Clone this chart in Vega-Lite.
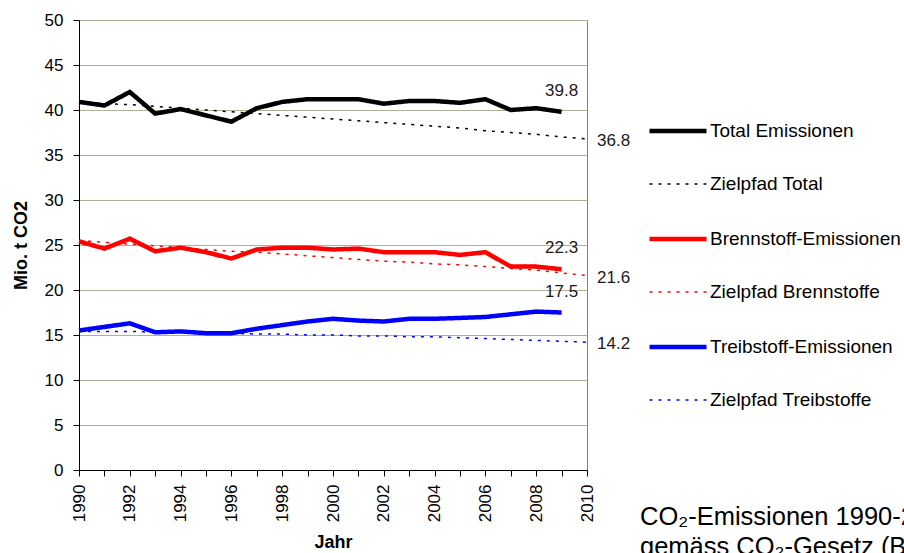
{
  "$schema": "https://vega.github.io/schema/vega-lite/v6.json",
  "autosize": {"type": "none"},
  "width": 508,
  "height": 450,
  "padding": {"left": 79, "top": 20, "right": 317, "bottom": 83},
  "background": "white",
  "config": {
    "font": "Liberation Sans",
    "view": {"stroke": "#808080", "strokeWidth": 1}
  },
  "title": {
    "text": ["CO₂-Emissionen 1990-2009", "gemäss CO₂-Gesetz (BAFU 2010)"],
    "orient": "bottom",
    "anchor": "start",
    "frame": "group",
    "fontSize": 25.5,
    "fontWeight": "normal",
    "lineHeight": 30,
    "color": "black",
    "dx": 561,
    "offset": -47
  },
  "data": {
    "values": [
      {"year": 1990, "series": "Total Emissionen", "value": 40.9},
      {"year": 1991, "series": "Total Emissionen", "value": 40.5},
      {"year": 1992, "series": "Total Emissionen", "value": 42.0},
      {"year": 1993, "series": "Total Emissionen", "value": 39.6},
      {"year": 1994, "series": "Total Emissionen", "value": 40.1},
      {"year": 1995, "series": "Total Emissionen", "value": 39.4},
      {"year": 1996, "series": "Total Emissionen", "value": 38.7},
      {"year": 1997, "series": "Total Emissionen", "value": 40.2},
      {"year": 1998, "series": "Total Emissionen", "value": 40.9},
      {"year": 1999, "series": "Total Emissionen", "value": 41.2},
      {"year": 2000, "series": "Total Emissionen", "value": 41.2},
      {"year": 2001, "series": "Total Emissionen", "value": 41.2},
      {"year": 2002, "series": "Total Emissionen", "value": 40.7},
      {"year": 2003, "series": "Total Emissionen", "value": 41.0},
      {"year": 2004, "series": "Total Emissionen", "value": 41.0},
      {"year": 2005, "series": "Total Emissionen", "value": 40.8},
      {"year": 2006, "series": "Total Emissionen", "value": 41.2},
      {"year": 2007, "series": "Total Emissionen", "value": 40.0},
      {"year": 2008, "series": "Total Emissionen", "value": 40.2},
      {"year": 2009, "series": "Total Emissionen", "value": 39.8},

      {"year": 1990, "series": "Zielpfad Total", "value": 40.9},
      {"year": 1991, "series": "Zielpfad Total", "value": 40.7},
      {"year": 1992, "series": "Zielpfad Total", "value": 40.6},
      {"year": 1993, "series": "Zielpfad Total", "value": 40.4},
      {"year": 1994, "series": "Zielpfad Total", "value": 40.2},
      {"year": 1995, "series": "Zielpfad Total", "value": 40.0},
      {"year": 1996, "series": "Zielpfad Total", "value": 39.8},
      {"year": 1997, "series": "Zielpfad Total", "value": 39.6},
      {"year": 1998, "series": "Zielpfad Total", "value": 39.4},
      {"year": 1999, "series": "Zielpfad Total", "value": 39.2},
      {"year": 2000, "series": "Zielpfad Total", "value": 39.0},
      {"year": 2001, "series": "Zielpfad Total", "value": 38.8},
      {"year": 2002, "series": "Zielpfad Total", "value": 38.6},
      {"year": 2003, "series": "Zielpfad Total", "value": 38.4},
      {"year": 2004, "series": "Zielpfad Total", "value": 38.2},
      {"year": 2005, "series": "Zielpfad Total", "value": 38.0},
      {"year": 2006, "series": "Zielpfad Total", "value": 37.7},
      {"year": 2007, "series": "Zielpfad Total", "value": 37.5},
      {"year": 2008, "series": "Zielpfad Total", "value": 37.3},
      {"year": 2009, "series": "Zielpfad Total", "value": 37.0},
      {"year": 2010, "series": "Zielpfad Total", "value": 36.8},

      {"year": 1990, "series": "Brennstoff-Emissionen", "value": 25.4},
      {"year": 1991, "series": "Brennstoff-Emissionen", "value": 24.6},
      {"year": 1992, "series": "Brennstoff-Emissionen", "value": 25.7},
      {"year": 1993, "series": "Brennstoff-Emissionen", "value": 24.3},
      {"year": 1994, "series": "Brennstoff-Emissionen", "value": 24.7},
      {"year": 1995, "series": "Brennstoff-Emissionen", "value": 24.2},
      {"year": 1996, "series": "Brennstoff-Emissionen", "value": 23.5},
      {"year": 1997, "series": "Brennstoff-Emissionen", "value": 24.5},
      {"year": 1998, "series": "Brennstoff-Emissionen", "value": 24.7},
      {"year": 1999, "series": "Brennstoff-Emissionen", "value": 24.7},
      {"year": 2000, "series": "Brennstoff-Emissionen", "value": 24.5},
      {"year": 2001, "series": "Brennstoff-Emissionen", "value": 24.6},
      {"year": 2002, "series": "Brennstoff-Emissionen", "value": 24.2},
      {"year": 2003, "series": "Brennstoff-Emissionen", "value": 24.2},
      {"year": 2004, "series": "Brennstoff-Emissionen", "value": 24.2},
      {"year": 2005, "series": "Brennstoff-Emissionen", "value": 23.9},
      {"year": 2006, "series": "Brennstoff-Emissionen", "value": 24.2},
      {"year": 2007, "series": "Brennstoff-Emissionen", "value": 22.6},
      {"year": 2008, "series": "Brennstoff-Emissionen", "value": 22.6},
      {"year": 2009, "series": "Brennstoff-Emissionen", "value": 22.3},

      {"year": 1990, "series": "Zielpfad Brennstoffe", "value": 25.5},
      {"year": 1991, "series": "Zielpfad Brennstoffe", "value": 25.3},
      {"year": 1992, "series": "Zielpfad Brennstoffe", "value": 25.1},
      {"year": 1993, "series": "Zielpfad Brennstoffe", "value": 24.9},
      {"year": 1994, "series": "Zielpfad Brennstoffe", "value": 24.7},
      {"year": 1995, "series": "Zielpfad Brennstoffe", "value": 24.5},
      {"year": 1996, "series": "Zielpfad Brennstoffe", "value": 24.3},
      {"year": 1997, "series": "Zielpfad Brennstoffe", "value": 24.2},
      {"year": 1998, "series": "Zielpfad Brennstoffe", "value": 24.0},
      {"year": 1999, "series": "Zielpfad Brennstoffe", "value": 23.8},
      {"year": 2000, "series": "Zielpfad Brennstoffe", "value": 23.6},
      {"year": 2001, "series": "Zielpfad Brennstoffe", "value": 23.4},
      {"year": 2002, "series": "Zielpfad Brennstoffe", "value": 23.2},
      {"year": 2003, "series": "Zielpfad Brennstoffe", "value": 23.1},
      {"year": 2004, "series": "Zielpfad Brennstoffe", "value": 22.9},
      {"year": 2005, "series": "Zielpfad Brennstoffe", "value": 22.8},
      {"year": 2006, "series": "Zielpfad Brennstoffe", "value": 22.6},
      {"year": 2007, "series": "Zielpfad Brennstoffe", "value": 22.4},
      {"year": 2008, "series": "Zielpfad Brennstoffe", "value": 22.2},
      {"year": 2009, "series": "Zielpfad Brennstoffe", "value": 21.9},
      {"year": 2010, "series": "Zielpfad Brennstoffe", "value": 21.6},

      {"year": 1990, "series": "Treibstoff-Emissionen", "value": 15.5},
      {"year": 1991, "series": "Treibstoff-Emissionen", "value": 15.9},
      {"year": 1992, "series": "Treibstoff-Emissionen", "value": 16.3},
      {"year": 1993, "series": "Treibstoff-Emissionen", "value": 15.3},
      {"year": 1994, "series": "Treibstoff-Emissionen", "value": 15.4},
      {"year": 1995, "series": "Treibstoff-Emissionen", "value": 15.2},
      {"year": 1996, "series": "Treibstoff-Emissionen", "value": 15.2},
      {"year": 1997, "series": "Treibstoff-Emissionen", "value": 15.7},
      {"year": 1998, "series": "Treibstoff-Emissionen", "value": 16.1},
      {"year": 1999, "series": "Treibstoff-Emissionen", "value": 16.5},
      {"year": 2000, "series": "Treibstoff-Emissionen", "value": 16.8},
      {"year": 2001, "series": "Treibstoff-Emissionen", "value": 16.6},
      {"year": 2002, "series": "Treibstoff-Emissionen", "value": 16.5},
      {"year": 2003, "series": "Treibstoff-Emissionen", "value": 16.8},
      {"year": 2004, "series": "Treibstoff-Emissionen", "value": 16.8},
      {"year": 2005, "series": "Treibstoff-Emissionen", "value": 16.9},
      {"year": 2006, "series": "Treibstoff-Emissionen", "value": 17.0},
      {"year": 2007, "series": "Treibstoff-Emissionen", "value": 17.3},
      {"year": 2008, "series": "Treibstoff-Emissionen", "value": 17.6},
      {"year": 2009, "series": "Treibstoff-Emissionen", "value": 17.5},

      {"year": 1990, "series": "Zielpfad Treibstoffe", "value": 15.4},
      {"year": 1991, "series": "Zielpfad Treibstoffe", "value": 15.4},
      {"year": 1992, "series": "Zielpfad Treibstoffe", "value": 15.4},
      {"year": 1993, "series": "Zielpfad Treibstoffe", "value": 15.3},
      {"year": 1994, "series": "Zielpfad Treibstoffe", "value": 15.3},
      {"year": 1995, "series": "Zielpfad Treibstoffe", "value": 15.2},
      {"year": 1996, "series": "Zielpfad Treibstoffe", "value": 15.2},
      {"year": 1997, "series": "Zielpfad Treibstoffe", "value": 15.1},
      {"year": 1998, "series": "Zielpfad Treibstoffe", "value": 15.1},
      {"year": 1999, "series": "Zielpfad Treibstoffe", "value": 15.0},
      {"year": 2000, "series": "Zielpfad Treibstoffe", "value": 15.0},
      {"year": 2001, "series": "Zielpfad Treibstoffe", "value": 14.9},
      {"year": 2002, "series": "Zielpfad Treibstoffe", "value": 14.9},
      {"year": 2003, "series": "Zielpfad Treibstoffe", "value": 14.8},
      {"year": 2004, "series": "Zielpfad Treibstoffe", "value": 14.8},
      {"year": 2005, "series": "Zielpfad Treibstoffe", "value": 14.7},
      {"year": 2006, "series": "Zielpfad Treibstoffe", "value": 14.6},
      {"year": 2007, "series": "Zielpfad Treibstoffe", "value": 14.5},
      {"year": 2008, "series": "Zielpfad Treibstoffe", "value": 14.4},
      {"year": 2009, "series": "Zielpfad Treibstoffe", "value": 14.3},
      {"year": 2010, "series": "Zielpfad Treibstoffe", "value": 14.2}
    ]
  },
  "encoding": {
    "x": {
      "field": "year",
      "type": "quantitative",
      "scale": {"domain": [1990, 2010], "nice": false, "zero": false},
      "axis": {
        "values": [1990, 1991, 1992, 1993, 1994, 1995, 1996, 1997, 1998, 1999, 2000, 2001, 2002, 2003, 2004, 2005, 2006, 2007, 2008, 2009, 2010],
        "format": "d",
        "labelExpr": "datum.value % 2 == 0 ? datum.label : ''",
        "labelAngle": 270,
        "labelAlign": "right",
        "labelBaseline": "middle",
        "labelFontSize": 17,
        "labelColor": "black",
        "labelPadding": 8,
        "labelOverlap": false,
        "labelFlush": false,
        "tickSize": 6,
        "tickColor": "black",
        "domainColor": "black",
        "grid": false,
        "title": "Jahr",
        "titleFontSize": 18,
        "titleFontWeight": "bold",
        "titleColor": "black",
        "titlePadding": 12
      }
    },
    "y": {
      "field": "value",
      "type": "quantitative",
      "scale": {"domain": [0, 50], "nice": false},
      "axis": {
        "values": [0, 5, 10, 15, 20, 25, 30, 35, 40, 45, 50],
        "labelFontSize": 17,
        "labelColor": "black",
        "labelPadding": 10,
        "tickSize": 6,
        "tickColor": "black",
        "domainColor": "black",
        "gridColor": "#b0b098",
        "title": "Mio. t CO2",
        "titleFontSize": 18,
        "titleFontWeight": "bold",
        "titleColor": "black",
        "titlePadding": 14
      }
    }
  },
  "layer": [
    {
      "mark": {"type": "line", "strokeCap": "butt", "strokeJoin": "miter"},
      "encoding": {
        "color": {
          "field": "series",
          "type": "nominal",
          "scale": {
            "domain": ["Total Emissionen", "Zielpfad Total", "Brennstoff-Emissionen", "Zielpfad Brennstoffe", "Treibstoff-Emissionen", "Zielpfad Treibstoffe"],
            "range": ["#000000", "#000000", "#ff0000", "#ff0000", "#0000ff", "#0000ff"]
          },
          "legend": {
            "title": null,
            "orient": "none",
            "legendX": 568,
            "legendY": 80,
            "padding": 0,
            "symbolType": "stroke",
            "symbolSize": 3249,
            "rowPadding": 13.5,
            "labelOffset": 1,
            "labelFontSize": 19,
            "labelColor": "black",
            "labelLimit": 300
          }
        },
        "strokeDash": {
          "field": "series",
          "type": "nominal",
          "scale": {
            "domain": ["Total Emissionen", "Zielpfad Total", "Brennstoff-Emissionen", "Zielpfad Brennstoffe", "Treibstoff-Emissionen", "Zielpfad Treibstoffe"],
            "range": [[1, 0], [3, 6], [1, 0], [3, 6], [1, 0], [3, 6]]
          }
        },
        "strokeWidth": {
          "field": "series",
          "type": "nominal",
          "scale": {
            "type": "ordinal",
            "domain": ["Total Emissionen", "Zielpfad Total", "Brennstoff-Emissionen", "Zielpfad Brennstoffe", "Treibstoff-Emissionen", "Zielpfad Treibstoffe"],
            "range": [4.5, 1.5, 4.5, 1.5, 4.5, 1.5]
          }
        }
      }
    },
    {
      "transform": [
        {"filter": "datum.year == 2009 && indexof(['Total Emissionen', 'Brennstoff-Emissionen', 'Treibstoff-Emissionen'], datum.series) >= 0"}
      ],
      "mark": {"type": "text", "align": "center", "baseline": "middle", "dy": -21, "fontSize": 17, "color": "#1a1a1a"},
      "encoding": {
        "text": {"field": "value", "type": "quantitative", "format": ".1f"}
      }
    },
    {
      "transform": [
        {"filter": "datum.year == 2010"}
      ],
      "mark": {"type": "text", "align": "left", "baseline": "middle", "dx": 10, "dy": 2, "fontSize": 17, "color": "#1a1a1a"},
      "encoding": {
        "text": {"field": "value", "type": "quantitative", "format": ".1f"}
      }
    }
  ]
}
